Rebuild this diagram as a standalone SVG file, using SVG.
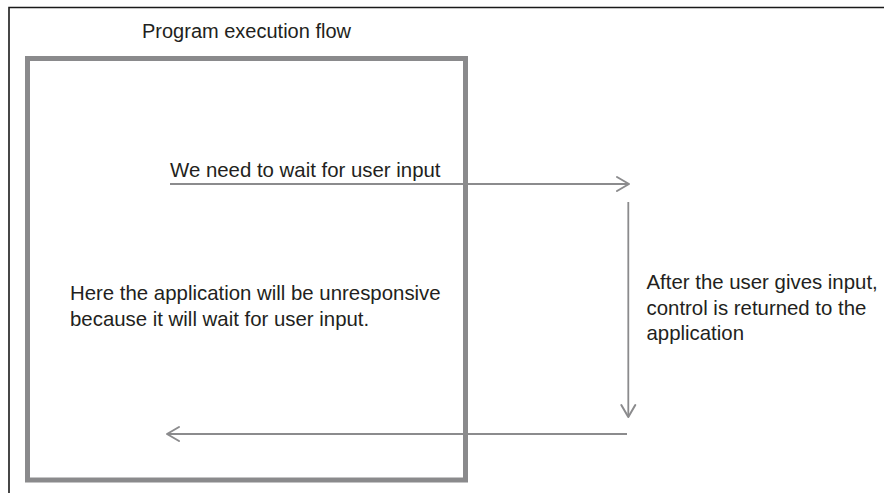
<svg xmlns="http://www.w3.org/2000/svg" width="884" height="493" viewBox="0 0 884 493">
<defs>
<style>
.t{font-family:"Liberation Sans",Arial,sans-serif;font-size:20.4px;fill:#231f20}
.tt{font-size:20px}
.c{stroke:#8b8b8d;stroke-width:1.8;fill:none}
.h{stroke:#8b8b8d;stroke-width:2;fill:none;stroke-linecap:round;stroke-linejoin:round}
</style>
<marker id="ah" viewBox="0 0 16 18" refX="14" refY="9" markerWidth="16" markerHeight="18" markerUnits="userSpaceOnUse" orient="auto">
<path d="M2,2 L14,9 L2,16" class="h"/>
</marker>
</defs>
<rect width="884" height="493" fill="#fff"/>
<g id="frame">
<path d="M9,493 V7.5 H884" stroke="#1a1a1a" stroke-width="1.6" fill="none"/>
</g>
<g id="title">
<text class="t tt" x="142" y="38">Program execution flow</text>
</g>
<g id="program">
<rect x="27.5" y="58.5" width="438" height="421.5" fill="none" stroke="#8a8a8c" stroke-width="5"/>
<text class="t" x="70" y="300">Here the application will be unresponsive</text>
<text class="t" x="70" y="325.5">because it will wait for user input.</text>
</g>
<g id="connectors">
<line class="c" x1="170" y1="184" x2="629" y2="184" marker-end="url(#ah)"/>
<line class="c" x1="628.3" y1="202" x2="628.3" y2="417" marker-end="url(#ah)"/>
<line class="c" x1="627" y1="434" x2="167" y2="434" marker-end="url(#ah)"/>
</g>
<g id="labels">
<text class="t" x="170" y="176.5">We need to wait for user input</text>
<text class="t" x="646.5" y="288.5">After the user gives input,</text>
<text class="t" x="646.5" y="314.5">control is returned to the</text>
<text class="t" x="646.5" y="339.5">application</text>
</g>
</svg>
